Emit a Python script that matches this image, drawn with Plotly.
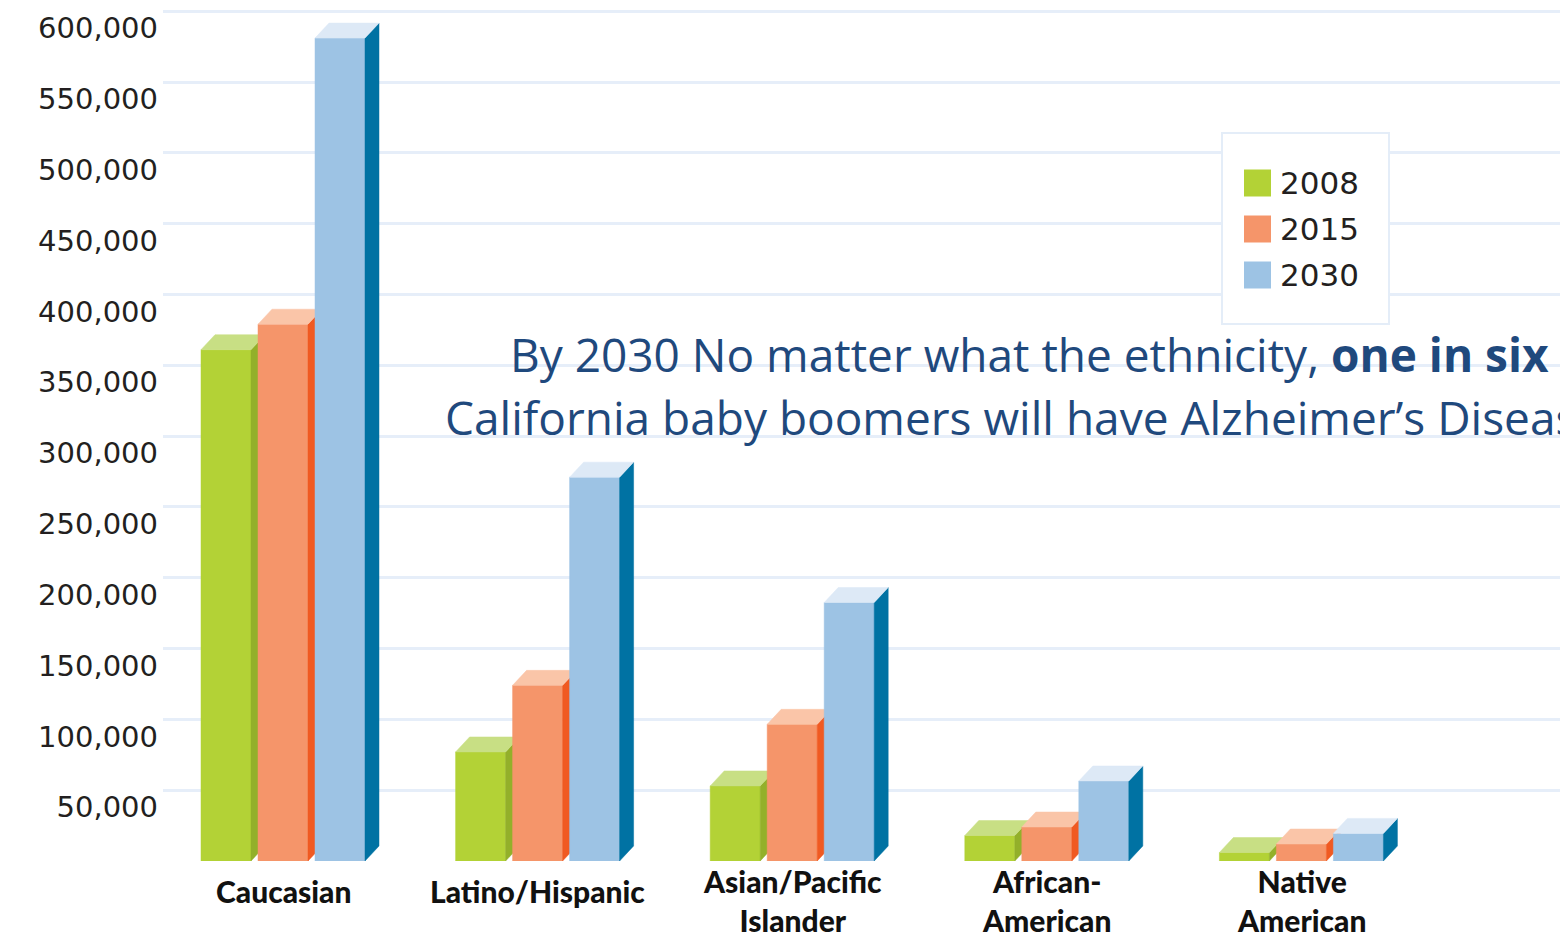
import plotly.graph_objects as go

# ---------------- data ----------------
categories = ["Caucasian", "Latino/Hispanic", "Asian/Pacific<br>Islander",
              "African-<br>American", "Native<br>American"]
years = ["2008", "2015", "2030"]
values_2008 = [361000, 77000, 53000, 18000, 6000]
values_2015 = [379000, 124000, 96500, 24000, 12000]
values_2030 = [581000, 271000, 182500, 56500, 19500]
tick_values = [50000, 100000, 150000, 200000, 250000, 300000,
               350000, 400000, 450000, 500000, 550000, 600000]
title_line1 = "By 2030 No matter what the ethnicity, <b>one in six</b>"
title_line2 = "California baby boomers will have Alzheimer\u2019s Disease"

series = [values_2008, values_2015, values_2030]

# ---------------- style ----------------
front_colors = ["#b3d236", "#f5956a", "#9dc3e4"]
side_colors = ["#93b02a", "#f05a22", "#0072a3"]
top_colors = ["#c8df84", "#fac5a8", "#dde9f6"]
grid_color = "#e6eef9"

W, H = 1560, 939
ML, MR, MT, MB = 163, 0, 0, 78
plot_w = W - ML - MR
plot_h = H - MT - MB

PX_PER_GROUP = 254.6
GROUP0_PX = 283
XMIN = (ML - GROUP0_PX) / PX_PER_GROUP
XMAX = (W - MR - GROUP0_PX) / PX_PER_GROUP
YMAX = 607900
px_per_y = plot_h / YMAX

BAR_STEP = 57 / PX_PER_GROUP
BAR_HALF = 25 / PX_PER_GROUP
DEPTH_X = 14 / PX_PER_GROUP
DEPTH_Y = 15 / px_per_y


def paper_x(px):
    return (px - ML) / plot_w


def paper_y(py):
    return (H - MB - py) / plot_h


fig = go.Figure()

for k, vals in enumerate(series):
    off = (k - 1) * BAR_STEP
    fx, fy, sx, sy, tx, ty = [], [], [], [], [], []
    for i, v in enumerate(vals):
        x0 = i + off - BAR_HALF
        x1 = i + off + BAR_HALF
        fx += [x0, x1, x1, x0, x0, None]
        fy += [0, 0, v, v, 0, None]
        sx += [x1, x1 + DEPTH_X, x1 + DEPTH_X, x1, x1, None]
        sy += [0, DEPTH_Y, v + DEPTH_Y, v, 0, None]
        tx += [x0, x1, x1 + DEPTH_X, x0 + DEPTH_X, x0, None]
        ty += [v, v, v + DEPTH_Y, v + DEPTH_Y, v, None]
    for xs, ys, col in ((fx, fy, front_colors[k]), (sx, sy, side_colors[k]),
                        (tx, ty, top_colors[k])):
        fig.add_trace(go.Scatter(
            x=xs, y=ys, mode="lines", fill="toself", fillcolor=col,
            line=dict(color=col, width=0.5), hoverinfo="skip",
            showlegend=False, name=years[k]))

annotations = []
# category labels
for i, cat in enumerate(categories):
    n_lines = cat.count("<br>") + 1
    if n_lines == 1:
        ypos, yanc = paper_y(891), "middle"
    else:
        ypos, yanc = paper_y(939), "bottom"
    annotations.append(dict(
        x=i, xref="x", y=ypos, yref="paper",
        text=cat, showarrow=False, xanchor="center", yanchor=yanc,
        align="center", borderpad=0,
        font=dict(family="Lato", size=30, color="#111111", weight=900)))

# custom legend
shapes = [dict(type="rect", xref="paper", yref="paper",
               x0=paper_x(1222), x1=paper_x(1389),
               y0=paper_y(324), y1=paper_y(133),
               line=dict(color="#e4edf8", width=2), fillcolor="white",
               layer="above")]
legend_y = [183, 229, 275]
for k, yr in enumerate(years):
    cy = legend_y[k]
    shapes.append(dict(type="rect", xref="paper", yref="paper",
                       x0=paper_x(1244), x1=paper_x(1271),
                       y0=paper_y(cy + 13.5), y1=paper_y(cy - 13.5),
                       line=dict(width=0), fillcolor=front_colors[k],
                       layer="above"))
    annotations.append(dict(
        x=paper_x(1278), xref="paper", y=paper_y(cy), yref="paper",
        text=yr, showarrow=False, xanchor="left", yanchor="middle",
        font=dict(family="DejaVu Sans", size=31, color="#231f20")))

# headline text
annotations.append(dict(
    x=paper_x(508), xref="paper", y=paper_y(354), yref="paper",
    text=title_line1, showarrow=False, xanchor="left", yanchor="middle",
    font=dict(family="Open Sans", size=46, color="#1f497d")))
annotations.append(dict(
    x=paper_x(443), xref="paper", y=paper_y(417), yref="paper",
    text=title_line2, showarrow=False, xanchor="left", yanchor="middle",
    font=dict(family="Open Sans", size=46, color="#1f497d")))

fig.update_layout(
    width=W, height=H,
    margin=dict(l=ML, r=MR, t=MT, b=MB, pad=0),
    paper_bgcolor="white", plot_bgcolor="white",
    showlegend=False,
    xaxis=dict(range=[XMIN, XMAX], visible=False, fixedrange=True),
    yaxis=dict(range=[0, YMAX], tickvals=tick_values, tickformat=",d",
               showgrid=True, gridcolor=grid_color, gridwidth=2.5,
               zeroline=False, showline=False, ticks="",
               ticklabelshift=17, ticklabelstandoff=4,
               ticklabeloverflow="allow",
               tickfont=dict(family="DejaVu Sans", size=29, color="#231f20"),
               fixedrange=True),
    annotations=annotations,
    shapes=shapes,
)

fig.write_html("out.html",
               config={"displayModeBar": False},
               post_script="document.body.style.margin='0';"
                           "document.body.style.overflow='hidden';")
